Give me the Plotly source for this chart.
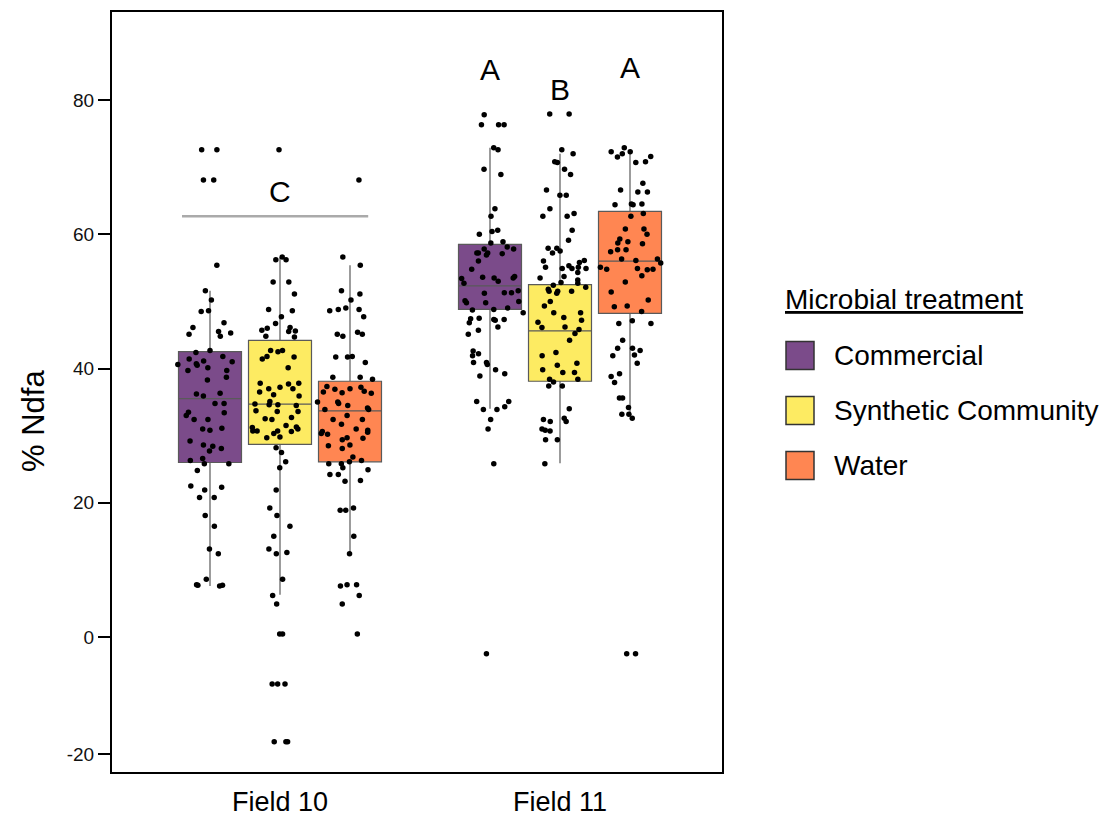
import plotly.graph_objects as go

# ---------------- data ----------------
fields = ["Field 10", "Field 11"]
treatments = ["Commercial", "Synthetic Community", "Water"]
colors = ["#7B4B8A", "#FDEB62", "#FF8652"]

# box statistics per treatment (order of `treatments`), values for [Field 10, Field 11]
q1 = [[26.0, 48.8], [28.7, 38.1], [26.1, 48.2]]
median = [[35.5, 52.3], [34.7, 45.6], [33.7, 56.0]]
q3 = [[42.5, 58.5], [44.2, 52.5], [38.1, 63.4]]
lowerfence = [[7.6, 34.0], [6.3, 25.9], [12.5, 33.3]]
upperfence = [[51.6, 72.9], [56.6, 72.0], [55.4, 72.2]]

# individual observations (% Ndfa)
f10_commercial = [72.6, 72.6, 68.1, 68.1, 55.4, 51.6, 50.2, 48.5, 48.6, 46.8, 46.1, 45.5, 45.3, 45.1,
                  44.8, 42.4, 42.7, 41.8, 41.4, 41.1, 40.6, 39.7, 41.0, 40.7, 40.5, 39.7, 38.7, 38.3,
                  40.1, 36.3, 36.2, 35.9, 34.8, 34.8, 33.5, 33.4, 33.0, 32.4, 32.4, 31.1, 31.0, 30.8,
                  29.2, 28.6, 28.4, 28.1, 27.7, 26.3, 25.8, 26.6, 25.8, 24.8, 22.3, 22.5, 20.8, 21.9,
                  20.8, 18.1, 16.5, 12.4, 13.1, 8.6, 7.7, 7.6, 7.8, 7.7]
f10_synthetic = [72.6, 56.2, 56.6, 56.2, 51.1, 52.9, 52.9, 47.7, 48.6, 48.8, 46.7, 44.7, 45.6, 46.1,
                 46.0, 45.7, 45.5, 44.8, 42.7, 42.5, 41.7, 41.8, 42.7, 41.4, 40.1, 37.8, 37.8, 37.2,
                 36.5, 36.1, 37.7, 37.0, 37.0, 35.9, 35.1, 34.5, 34.6, 34.7, 34.6, 33.6, 32.5, 32.7,
                 32.4, 33.6, 33.7, 31.5, 31.2, 31.0, 30.7, 30.7, 30.6, 30.7, 30.3, 31.3, 29.8, 29.7,
                 27.5, 25.2, 28.2, 26.1, 21.9, 19.2, 18.1, 16.5, 15.0, 12.6, 13.1, 12.4, 8.6, 6.2,
                 4.9, 0.45, 0.45, -7.0, -7.0, -7.0, -15.6, -15.6, -15.6]
f10_water = [68.1, 56.6, 55.4, 51.6, 51.1, 50.2, 48.6, 48.8, 47.7, 49.0, 48.8, 45.4, 45.1, 45.1, 44.8,
             41.7, 40.9, 41.8, 41.7, 38.7, 38.4, 38.7, 36.9, 36.6, 36.4, 37.2, 37.3, 36.5, 36.3, 37.0,
             34.5, 34.8, 35.0, 35.0, 33.9, 34.1, 33.9, 33.0, 32.4, 32.4, 31.7, 31.0, 30.3, 30.6, 30.5,
             30.8, 30.2, 29.7, 29.4, 29.6, 28.6, 28.5, 28.1, 26.8, 25.2, 25.8, 25.8, 26.1, 26.3, 24.9,
             24.2, 24.2, 23.2, 23.3, 19.2, 18.9, 18.9, 15.0, 12.4, 7.8, 7.6, 7.8, 6.2, 4.9, 0.45]
f11_commercial = [77.8, 76.3, 76.3, 76.3, 72.9, 72.6, 68.9, 69.7, 62.7, 63.8, 60.4, 60.6, 60.0, 58.9,
                  58.7, 57.2, 57.2, 57.1, 57.8, 57.2, 58.1, 57.8, 56.0, 54.8, 56.9, 53.4, 53.0, 52.7,
                  53.7, 53.5, 53.6, 53.5, 51.3, 51.2, 51.6, 51.3, 50.0, 49.8, 50.1, 49.8, 49.0, 48.8,
                  48.7, 48.3, 47.2, 46.8, 47.4, 47.5, 47.3, 47.3, 46.2, 45.7, 45.1, 42.6, 42.2, 41.9,
                  40.6, 40.9, 40.9, 39.8, 38.9, 39.2, 35.1, 33.9, 33.9, 34.3, 35.1, 32.4, 31.0, 25.8,
                  -2.5]
f11_synthetic = [77.9, 77.9, 72.6, 72.0, 70.8, 70.7, 68.9, 69.7, 66.6, 65.8, 65.8, 63.8, 62.7, 62.7,
                 63.1, 60.6, 59.1, 57.5, 57.9, 57.9, 57.2, 56.1, 55.8, 55.3, 56.0, 54.9, 55.1, 54.9,
                 55.1, 54.3, 54.9, 53.7, 53.5, 53.2, 52.7, 52.8, 52.1, 51.5, 51.2, 51.5, 51.5, 51.8,
                 52.4, 50.0, 49.3, 48.3, 47.6, 47.2, 48.3, 46.9, 46.2, 46.1, 45.2, 45.8, 44.2, 42.4,
                 41.9, 40.5, 39.8, 39.4, 40.8, 39.4, 38.0, 38.4, 38.4, 37.4, 37.4, 34.0, 32.1, 32.6,
                 32.4, 32.1, 31.0, 30.8, 30.7, 29.4, 29.4, 25.8]
f11_water = [72.9, 72.3, 71.6, 70.8, 70.7, 72.0, 71.5, 72.3, 67.6, 66.6, 66.3, 66.3, 64.5, 64.4, 64.5,
             64.4, 62.7, 63.1, 60.8, 60.8, 60.0, 59.3, 58.6, 58.7, 58.9, 57.7, 57.4, 56.3, 56.3, 57.7,
             55.7, 56.1, 54.9, 54.7, 54.8, 55.1, 54.8, 53.8, 52.9, 51.4, 50.2, 49.3, 49.2, 48.5, 46.7,
             47.1, 46.7, 44.2, 43.0, 43.0, 42.7, 42.0, 41.9, 40.8, 37.9, 39.2, 38.8, 35.6, 35.6, 34.2,
             33.2, 33.2, 32.6, -2.5, -2.5]

points = [(f10_commercial, f11_commercial), (f10_synthetic, f11_synthetic), (f10_water, f11_water)]

# significance letters
letters = ["C", "A", "B", "A"]
letter_field = ["Field 10", "Field 11", "Field 11", "Field 11"]
letter_treatment = [None, "Commercial", "Synthetic Community", "Water"]
letter_y = [66.3, 84.6, 81.5, 84.8]
bracket_y = 62.7

y_tickvals = [-17.43, 0, 20, 40, 60, 80]
y_ticktext = ["-20", "0", "20", "40", "60", "80"]
y_title = "% Ndfa"
legend_title = "Microbial treatment"

# ---------------- figure ----------------
FONT = "Liberation Sans, Arial, sans-serif"
W, H = 1108, 819
PL, PR, PT, PB = 112, 722, 12, 772
BOXGAP, BOXGROUPGAP = 0.25, 0.10
slot = (1 - BOXGAP) / len(treatments)

fig = go.Figure()
for i, t in enumerate(treatments):
    fig.add_trace(go.Box(
        name=t, x=fields, q1=q1[i], median=median[i], q3=q3[i],
        lowerfence=lowerfence[i], upperfence=upperfence[i],
        boxpoints=False, fillcolor=colors[i], whiskerwidth=0,
        line=dict(color="#5a5a5a", width=1.2),
        offsetgroup=t, alignmentgroup="g", showlegend=False, hoverinfo="skip"))
# jittered observations drawn with invisible violins on an overlaying subplot (so they sit on top)
for i, t in enumerate(treatments):
    a, b = points[i]
    fig.add_trace(go.Violin(
        name=t, x=[fields[0]] * len(a) + [fields[1]] * len(b), y=a + b,
        xaxis="x2", yaxis="y2",
        points="all", jitter=1.0, pointpos=0,
        fillcolor="rgba(0,0,0,0)", line=dict(color="rgba(0,0,0,0)", width=0),
        box=dict(visible=False), meanline=dict(visible=False),
        marker=dict(color="black", size=5.5),
        offsetgroup=t, alignmentgroup="v", showlegend=False, hoverinfo="skip"))

annotations = []
for L, f, t, yv in zip(letters, letter_field, letter_treatment, letter_y):
    xi = fields.index(f)
    if t is not None:
        xi += (treatments.index(t) - 1) * slot
    annotations.append(dict(x=xi, y=yv, xref="x", yref="y", text=L, showarrow=False,
                            font=dict(family=FONT, size=30, color="black"),
                            xanchor="center", yanchor="middle"))

shapes = [dict(type="line", xref="x", yref="y", x0=-0.35, x1=0.315, y0=bracket_y, y1=bracket_y,
               line=dict(color="#aaaaaa", width=2.5))]


def pxx(px):
    return (px - PL) / (PR - PL)


def pxy(py):
    return (PB - py) / (PB - PT)


# y-axis title
annotations.append(dict(x=pxx(33), y=pxy(421), xref="paper", yref="paper", text=y_title,
                        textangle=-90, showarrow=False, xanchor="center", yanchor="middle",
                        font=dict(family=FONT, size=31, color="black")))

# custom legend
annotations.append(dict(x=pxx(783), y=pxy(300), xref="paper", yref="paper",
                        text="<u>" + legend_title + "</u>", showarrow=False,
                        xanchor="left", yanchor="middle",
                        font=dict(family=FONT, size=28, color="black")))
centers = [355.5, 410.5, 465.5]
for t, c, yc in zip(treatments, colors, centers):
    shapes.append(dict(type="rect", xref="paper", yref="paper",
                       x0=pxx(786), x1=pxx(814), y0=pxy(yc + 14), y1=pxy(yc - 14),
                       fillcolor=c, line=dict(color="#333333", width=1.5)))
    annotations.append(dict(x=pxx(832), y=pxy(yc), xref="paper", yref="paper",
                            text=t, showarrow=False, xanchor="left", yanchor="middle",
                            font=dict(family=FONT, size=28, color="black")))

px_per_unit = (637 - 100) / 80.0
y_top = 80 + (100 - PT) / px_per_unit
y_bot = 0 - (PB - 637) / px_per_unit
x_range = [-(280 - PL) / 280.0, 1 + (PR - 560) / 280.0]

fig.update_layout(
    width=W, height=H,
    margin=dict(l=PL, r=W - PR, t=PT, b=H - PB, pad=0, autoexpand=False),
    paper_bgcolor="white", plot_bgcolor="white",
    boxmode="group", boxgap=BOXGAP, boxgroupgap=BOXGROUPGAP,
    violinmode="group", violingap=BOXGAP, violingroupgap=0.0,
    showlegend=False,
    font=dict(family=FONT, color="black"),
    annotations=annotations, shapes=shapes,
    xaxis=dict(type="category", categoryorder="array", categoryarray=fields,
               range=x_range,
               showline=True, mirror=True, linecolor="black", linewidth=2,
               ticks="", showgrid=False, zeroline=False, automargin=False,
               tickfont=dict(family=FONT, size=27, color="black"),
               ticklabelstandoff=5),
    yaxis=dict(range=[y_bot, y_top], tickvals=y_tickvals, ticktext=y_ticktext,
               showline=True, mirror=True, linecolor="black", linewidth=2,
               ticks="outside", ticklen=12, tickwidth=2, tickcolor="black",
               showgrid=False, zeroline=False, automargin=False,
               tickfont=dict(family=FONT, size=19, color="#111111")),
    xaxis2=dict(type="category", categoryorder="array", categoryarray=fields,
                range=x_range, overlaying="x", visible=False, automargin=False),
    yaxis2=dict(range=[y_bot, y_top], overlaying="y", visible=False, automargin=False),
)

fig.write_html("out.html")
